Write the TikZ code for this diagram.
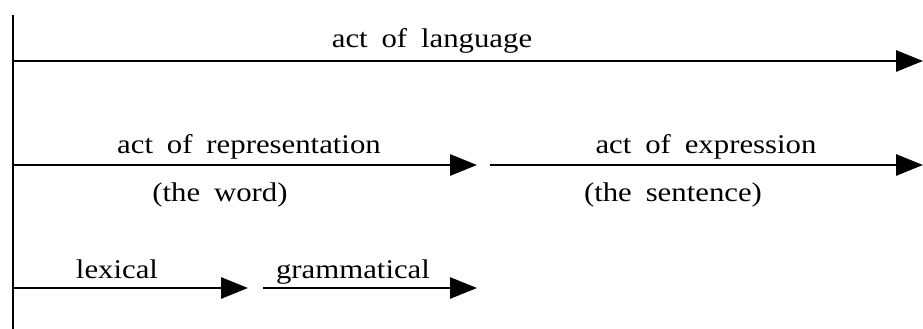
\documentclass[tikz,border=0pt]{standalone}
\usepackage{fontspec}
\setmainfont{Liberation Serif}[FakeStretch=1.14, WordSpace=1.8]
\usetikzlibrary{arrows.meta}
\begin{document}
\begin{tikzpicture}[x=1pt,y=-1pt,
  conn/.style={line width=2.9pt, -{Triangle[length=27pt,width=21pt]}},
  lbl/.style={anchor=base, inner sep=0pt, font=\fontsize{27}{32}\selectfont}]
\useasboundingbox (0,0) rectangle (923,329);
% vertical axis
\coordinate (vtop) at (13,15);
\coordinate (vbot) at (13,329);
\draw[line width=2.9pt] (vtop) -- (vbot);
% row 1
\coordinate (a1) at (13,61);
\coordinate (a2) at (923,61);
\draw[conn] (a1) -- (a2);
\node[lbl] (lang) at (432,48) {act of language};
% row 2
\coordinate (b1) at (13,165);
\coordinate (b2) at (477,165);
\coordinate (b3) at (490,165);
\coordinate (b4) at (923,165);
\draw[conn] (b1) -- (b2);
\draw[conn] (b3) -- (b4);
\node[lbl] (repr) at (249,153) {act of representation};
\node[lbl] (expr) at (706,153) {act of expression};
\node[lbl] (word) at (220,201) {(the word)};
\node[lbl] (sent) at (673,201) {(the sentence)};
% row 3
\coordinate (c1) at (13,288);
\coordinate (c2) at (248,288);
\coordinate (c3) at (263,288);
\coordinate (c4) at (477,288);
\draw[conn] (c1) -- (c2);
\draw[conn] (c3) -- (c4);
\node[lbl] (lex) at (117,278) {lexical};
\node[lbl] (gram) at (353,278) {grammatical};
\end{tikzpicture}
\end{document}
